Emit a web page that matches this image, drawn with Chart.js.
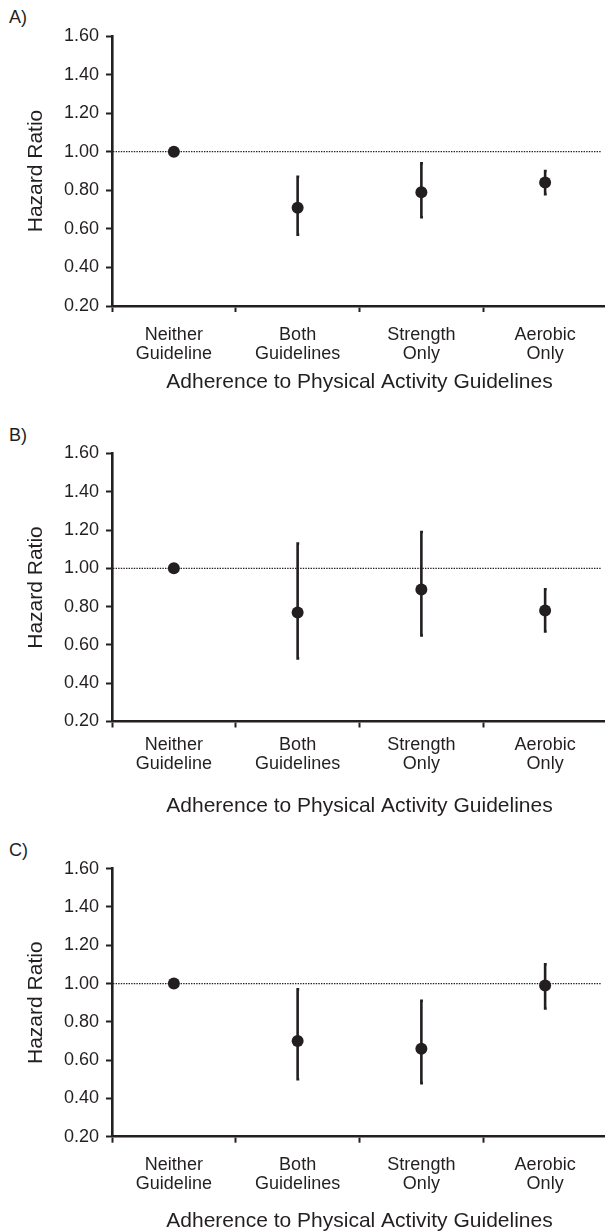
<!DOCTYPE html>
<html>
<head>
<meta charset="utf-8">
<script src="https://cdn.jsdelivr.net/npm/chart.js@4.4.0/dist/chart.umd.min.js"></script>
<style>
  html, body { margin: 0; padding: 0; background: #fff; overflow: hidden; width: 605px; height: 1231px; }
  .panel { position: absolute; left: 0; width: 607px; }
  .tag { position: absolute; left: 9px; font: 18px "Liberation Sans", Arial, sans-serif; line-height: 20px; color: #231f20; }
</style>
</head>
<body>
<div class="tag" style="top:7px">A)</div>
<div class="tag" style="top:425px">B)</div>
<div class="tag" style="top:840px">C)</div>
<div class="panel" id="pA" style="top:0px;height:410px"><canvas id="cA"></canvas></div>
<div class="panel" id="pB" style="top:415px;height:410px"><canvas id="cB"></canvas></div>
<div class="panel" id="pC" style="top:830px;height:410px"><canvas id="cC"></canvas></div>
<script>
// ---- data ----
const categories = [["Neither", "Guideline"], ["Both", "Guidelines"], ["Strength", "Only"], ["Aerobic", "Only"]];
const yTickValues = [0.20, 0.40, 0.60, 0.80, 1.00, 1.20, 1.40, 1.60];
const referenceValue = 1.00;
const xTitle = "Adherence to Physical Activity Guidelines";
const yTitle = "Hazard Ratio";

const hrA    = [1.00, 0.71, 0.79, 0.84];
const lowerA = [null, 0.57, 0.66, 0.78];
const upperA = [null, 0.87, 0.94, 0.90];

const hrB    = [1.00, 0.77, 0.89, 0.78];
const lowerB = [null, 0.53, 0.65, 0.67];
const upperB = [null, 1.13, 1.19, 0.89];

const hrC    = [1.00, 0.70, 0.66, 0.99];
const lowerC = [null, 0.50, 0.48, 0.87];
const upperC = [null, 0.97, 0.91, 1.10];

// ---- styles ----
const INK = '#231f20';
const FAMILY = '"Liberation Sans", Arial, Helvetica, sans-serif';

const refLinePlugin = {
  id: 'refLine',
  beforeDatasetsDraw(chart) {
    const { ctx, chartArea, scales: { y } } = chart;
    const py = y.getPixelForValue(referenceValue);
    ctx.save();
    ctx.strokeStyle = INK;
    ctx.lineWidth = 1.3;
    ctx.setLineDash([1.4, 1.2]);
    ctx.beginPath();
    ctx.moveTo(chartArea.left + 1, py);
    ctx.lineTo(chartArea.right - 6, py);
    ctx.stroke();
    ctx.restore();
  }
};

const errorBarPlugin = {
  id: 'errorBars',
  beforeDatasetsDraw(chart) {
    const { ctx, scales: { x, y } } = chart;
    const ds = chart.data.datasets[0];
    ctx.save();
    ctx.strokeStyle = INK;
    ctx.lineWidth = 2.6;
    ctx.lineJoin = 'miter';
    ds.data.forEach((v, i) => {
      const lo = ds.lower[i], hi = ds.upper[i];
      if (lo == null || hi == null) return;
      const px = x.getPixelForValue(i);
      const yl = y.getPixelForValue(lo), yh = y.getPixelForValue(hi);
      ctx.beginPath();
      ctx.moveTo(px + 1.6, yh);
      ctx.lineTo(px, yh);
      ctx.lineTo(px, yl);
      ctx.lineTo(px + 1.6, yl);
      ctx.stroke();
    });
    ctx.restore();
  }
};

function makeChart(id, hr, lo, hi, L) {
  return new Chart(document.getElementById(id), {
    type: 'line',
    data: {
      labels: categories,
      datasets: [{
        data: hr, lower: lo, upper: hi,
        showLine: false,
        pointRadius: 6, pointHoverRadius: 6,
        pointBackgroundColor: INK, pointBorderColor: INK, pointBorderWidth: 0
      }]
    },
    options: {
      responsive: true, maintainAspectRatio: false, animation: false, events: [],
      layout: { autoPadding: false, padding: { top: L.padTop, left: 0, right: 0, bottom: 0 } },
      plugins: { legend: { display: false }, tooltip: { enabled: false } },
      scales: {
        x: {
          type: 'category', offset: true,
          grid: { offset: true, drawOnChartArea: false, drawTicks: true, tickLength: 6, tickWidth: 2, tickColor: INK },
          border: { display: true, color: INK, width: 2.6 },
          ticks: { color: INK, font: { family: FAMILY, size: 18, lineHeight: 1.05 }, padding: L.xTickPad, maxRotation: 0, autoSkip: false },
          title: { display: true, text: xTitle, color: INK, font: { family: FAMILY, size: 21, lineHeight: 1.2 }, padding: { top: 0, bottom: L.titlePad } },
          afterFit: s => { s.height = L.xHeight; }
        },
        y: {
          min: 0.2, max: 1.6,
          afterBuildTicks: s => { s.ticks = yTickValues.map(v => ({ value: v })); },
          ticks: { color: INK, font: { family: FAMILY, size: 18 }, padding: 7, callback: v => Number(v).toFixed(2) },
          grid: { drawOnChartArea: false, drawTicks: true, tickLength: 6, tickWidth: 2, tickColor: INK },
          border: { display: true, color: INK, width: 2.6 },
          title: { display: true, text: yTitle, color: INK, font: { family: FAMILY, size: 21, lineHeight: 1.2 }, padding: { top: 24, bottom: 0 } },
          afterFit: s => { s.width = 112; }
        }
      }
    },
    plugins: [refLinePlugin, errorBarPlugin]
  });
}

makeChart('cA', hrA, lowerA, upperA, { padTop: 36, xHeight: 104, xTickPad: 13.5, titlePad: 15 });
makeChart('cB', hrB, lowerB, upperB, { padTop: 38.5, xHeight: 103.5, xTickPad: 8.5, titlePad: 6.5 });
makeChart('cC', hrC, lowerC, upperC, { padTop: 38.7, xHeight: 103.3, xTickPad: 12.5, titlePad: 6 });
</script>
</body>
</html>
